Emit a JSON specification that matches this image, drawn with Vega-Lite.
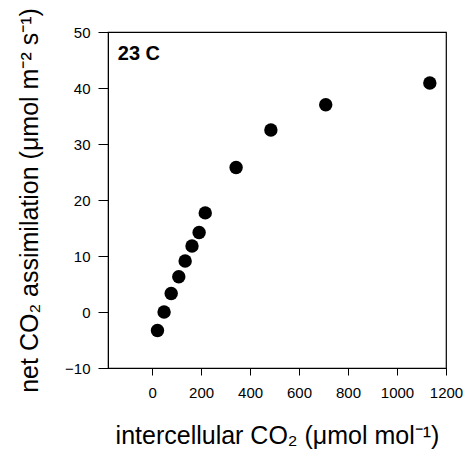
{
  "$schema": "https://vega.github.io/schema/vega-lite/v6.json",
  "width": 338,
  "height": 336,
  "autosize": "none",
  "padding": {"left": 108, "top": 32, "right": 20, "bottom": 92},
  "background": "white",
  "config": {
    "font": "Liberation Sans",
    "view": {"stroke": "black", "strokeWidth": 1.2},
    "axis": {
      "domainColor": "black",
      "tickColor": "black",
      "labelColor": "black",
      "titleColor": "black",
      "labelFont": "Liberation Sans",
      "titleFont": "Liberation Sans",
      "labelFontSize": 15,
      "titleFontWeight": "normal",
      "grid": false
    }
  },
  "datasets": {
    "pts": [
      {"ci": 22, "a": -3.3},
      {"ci": 49, "a": 0.0},
      {"ci": 78, "a": 3.3},
      {"ci": 109, "a": 6.3},
      {"ci": 135, "a": 9.1},
      {"ci": 163, "a": 11.8},
      {"ci": 192, "a": 14.2},
      {"ci": 217, "a": 17.7},
      {"ci": 343, "a": 25.8},
      {"ci": 485, "a": 32.5},
      {"ci": 709, "a": 37.0},
      {"ci": 1134, "a": 40.9}
    ],
    "lbl": [{"ci": -140, "a": 45, "t": "23 C"}]
  },
  "layer": [
    {
      "data": {"name": "pts"},
      "mark": {"type": "circle", "size": 180, "color": "black", "opacity": 1},
      "encoding": {
        "x": {
          "field": "ci", "type": "quantitative",
          "scale": {"domain": [-180, 1200], "nice": false, "zero": false},
          "axis": {
            "values": [0, 200, 400, 600, 800, 1000, 1200],
            "format": "d",
            "title": "intercellular CO₂ (μmol mol⁻¹)",
            "titleFontSize": 25,
            "titlePadding": 23,
            "tickSize": 7,
            "labelPadding": 10,
            "labelFlush": false
          }
        },
        "y": {
          "field": "a", "type": "quantitative",
          "scale": {"domain": [-10, 50], "nice": false, "zero": false},
          "axis": {
            "values": [-10, 0, 10, 20, 30, 40, 50],
            "format": "d",
            "title": "net CO₂ assimilation (μmol m⁻² s⁻¹)",
            "titleFontSize": 25,
            "titlePadding": 22,
            "tickSize": 10,
            "labelPadding": 8,
            "labelFlush": false
          }
        }
      }
    },
    {
      "data": {"name": "lbl"},
      "mark": {"type": "text", "fontSize": 20, "fontWeight": "bold", "align": "left", "baseline": "alphabetic", "color": "black"},
      "encoding": {
        "x": {"field": "ci", "type": "quantitative"},
        "y": {"field": "a", "type": "quantitative"},
        "text": {"field": "t"}
      }
    }
  ]
}
